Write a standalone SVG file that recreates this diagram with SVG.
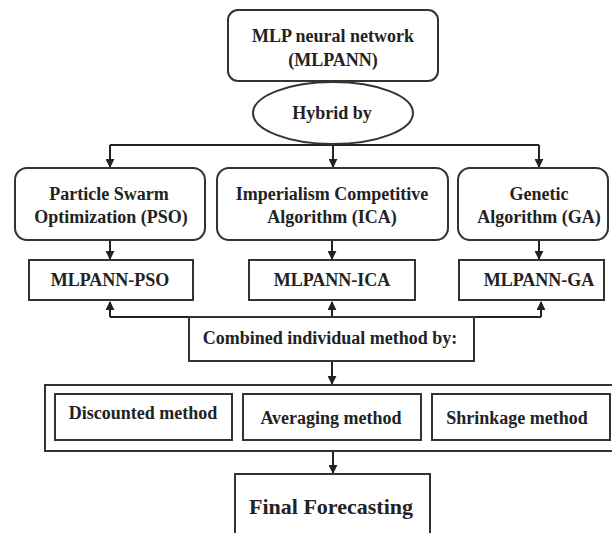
<svg xmlns="http://www.w3.org/2000/svg" width="612" height="533" viewBox="0 0 612 533">
<style>
.b{fill:#fff;stroke:#333;stroke-width:2}
.t{fill:#222;text-anchor:middle}
.c{fill:none;stroke:#222;stroke-width:2}
</style>
<defs>
<marker id="ah" viewBox="0 0 10 10" refX="9" refY="5" markerWidth="4.5" markerHeight="4.5" orient="auto">
<path d="M0,0L10,5L0,10z" fill="#222"/>
</marker>
</defs>
<rect width="612" height="533" fill="#fff"/>
<g font-family="Liberation Serif" font-weight="bold" font-size="18">
<g id="connectors">
<path class="c" d="M110,145H539"/>
<path class="c" d="M110,145V167" marker-end="url(#ah)"/>
<path class="c" d="M333,144V167" marker-end="url(#ah)"/>
<path class="c" d="M539,145V167" marker-end="url(#ah)"/>
<path class="c" d="M110,240V259" marker-end="url(#ah)"/>
<path class="c" d="M332,240V259" marker-end="url(#ah)"/>
<path class="c" d="M539,240V259" marker-end="url(#ah)"/>
<path class="c" d="M110,317H541"/>
<path class="c" d="M110,317V302" marker-end="url(#ah)"/>
<path class="c" d="M332,317V302" marker-end="url(#ah)"/>
<path class="c" d="M541,317V302" marker-end="url(#ah)"/>
<path class="c" d="M332,361V384" marker-end="url(#ah)"/>
<path class="c" d="M333,451V473" marker-end="url(#ah)"/>
</g>
<g id="mlpann">
<rect class="b" x="228" y="10" width="210" height="71" rx="10"/>
<text class="t" x="333" y="42">MLP neural network</text>
<text class="t" x="333" y="66">(MLPANN)</text>
</g>
<g id="hybrid">
<ellipse class="b" cx="333" cy="113" rx="80" ry="31"/>
<text class="t" x="332" y="119">Hybrid by</text>
</g>
<g id="pso">
<rect class="b" x="15" y="168" width="190" height="72" rx="12"/>
<text class="t" x="109" y="200">Particle Swarm</text>
<text class="t" x="111" y="223">Optimization (PSO)</text>
</g>
<g id="ica">
<rect class="b" x="217" y="168" width="231" height="72" rx="12"/>
<text class="t" x="332" y="200">Imperialism Competitive</text>
<text class="t" x="332" y="223">Algorithm (ICA)</text>
</g>
<g id="ga">
<rect class="b" x="458" y="168" width="150" height="72" rx="12"/>
<text class="t" x="539" y="200">Genetic</text>
<text class="t" x="539" y="223">Algorithm (GA)</text>
</g>
<g id="mlpann-pso">
<rect class="b" x="29" y="260" width="164" height="40"/>
<text class="t" x="110" y="286">MLPANN-PSO</text>
</g>
<g id="mlpann-ica">
<rect class="b" x="249" y="260" width="166" height="40"/>
<text class="t" x="332" y="286">MLPANN-ICA</text>
</g>
<g id="mlpann-ga">
<rect class="b" x="459" y="260" width="145" height="40"/>
<text class="t" x="539" y="286">MLPANN-GA</text>
</g>
<g id="combined">
<rect class="b" x="189" y="317" width="285" height="44"/>
<text class="t" x="330" y="344">Combined individual method by:</text>
</g>
<g id="methods">
<rect class="b" x="45" y="385" width="572" height="66"/>
</g>
<g id="discounted">
<rect class="b" x="55" y="394" width="177" height="46"/>
<text class="t" x="143" y="419">Discounted method</text>
</g>
<g id="averaging">
<rect class="b" x="243" y="394" width="178" height="46"/>
<text class="t" x="331" y="424">Averaging method</text>
</g>
<g id="shrinkage">
<rect class="b" x="432" y="394" width="178" height="46"/>
<text class="t" x="517" y="424">Shrinkage method</text>
</g>
<g id="final">
<rect class="b" x="235" y="474" width="195" height="66"/>
<text class="t" x="331" y="514" font-size="22">Final Forecasting</text>
</g>
</g>
</svg>
